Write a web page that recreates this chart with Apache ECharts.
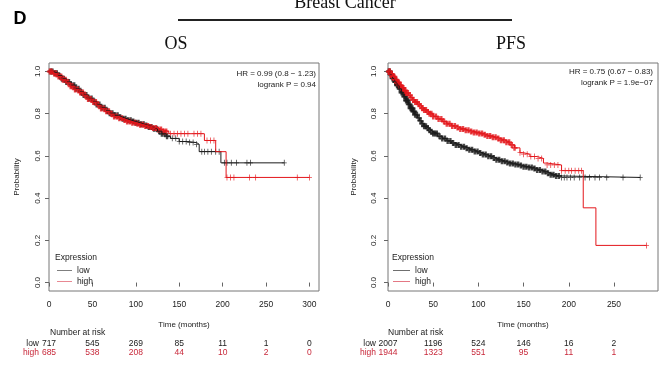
<!DOCTYPE html>
<html>
<head>
<meta charset="utf-8">
<script src="https://cdn.jsdelivr.net/npm/echarts@6/dist/echarts.min.js"></script>
<style>
  html, body { margin: 0; padding: 0; background: #fff; }
  #chart { width: 669px; height: 367px; }
</style>
</head>
<body>
<div id="chart"></div>
<script>
// axis ticks
const osTicks = [0, 50, 100, 150, 200, 250, 300];
const pfsTicks = [0, 50, 100, 150, 200, 250];
const yTicks = [0, 0.2, 0.4, 0.6, 0.8, 1.0];

// number at risk
const osRiskLow = [717, 545, 269, 85, 11, 1, 0];
const osRiskHigh = [685, 538, 208, 44, 10, 2, 0];
const pfsRiskLow = [2007, 1196, 524, 146, 16, 2];
const pfsRiskHigh = [1944, 1323, 551, 95, 11, 1];

// KM curves [months, survival]
const osLow = [[0,1],[5,0.992],[10,0.98],[15,0.965],[20,0.95],[25,0.935],[30,0.918],[35,0.903],[40,0.888],[45,0.872],[50,0.858],[55,0.843],[60,0.828],[65,0.814],[70,0.802],[75,0.792],[80,0.783],[85,0.776],[90,0.769],[95,0.763],[100,0.757],[105,0.75],[110,0.744],[115,0.737],[120,0.728],[125,0.717],[130,0.705],[135,0.693],[140,0.683],[150,0.668],[160,0.663],[170,0.655],[173,0.62],[198,0.567],[271,0.567]];
const osHigh = [[0,1],[5,0.99],[10,0.976],[15,0.961],[20,0.946],[25,0.93],[30,0.915],[35,0.9],[40,0.885],[45,0.87],[50,0.855],[55,0.84],[60,0.825],[65,0.811],[70,0.798],[75,0.787],[80,0.778],[85,0.77],[90,0.763],[95,0.757],[100,0.752],[105,0.747],[110,0.742],[115,0.737],[120,0.732],[125,0.725],[130,0.716],[138,0.705],[179,0.673],[192,0.62],[204,0.498],[300,0.498]];
const pfsLow = [[0,1],[2.5,0.985],[5,0.967],[7.5,0.95],[10,0.935],[12.5,0.918],[15,0.9],[17.5,0.881],[20,0.862],[22.5,0.844],[25,0.826],[27.5,0.81],[30,0.795],[32.5,0.78],[35,0.766],[37.5,0.752],[40,0.74],[42.5,0.731],[45,0.722],[47.5,0.714],[50,0.706],[55,0.693],[60,0.682],[65,0.671],[70,0.661],[75,0.652],[80,0.643],[85,0.636],[90,0.629],[95,0.621],[100,0.614],[105,0.606],[110,0.598],[115,0.59],[120,0.582],[125,0.575],[130,0.569],[135,0.564],[140,0.559],[145,0.554],[150,0.549],[155,0.545],[160,0.54],[165,0.533],[170,0.526],[175,0.518],[180,0.511],[185,0.505],[190,0.498],[279,0.498]];
const pfsHigh = [[0,1],[2.5,0.988],[5,0.975],[7.5,0.961],[10,0.948],[12.5,0.935],[15,0.922],[17.5,0.91],[20,0.898],[22.5,0.887],[25,0.876],[27.5,0.865],[30,0.855],[32.5,0.845],[35,0.836],[37.5,0.826],[40,0.817],[42.5,0.808],[45,0.8],[50,0.787],[55,0.775],[60,0.763],[65,0.752],[70,0.742],[75,0.734],[80,0.727],[85,0.721],[90,0.716],[95,0.711],[100,0.706],[105,0.7],[110,0.694],[115,0.688],[120,0.682],[125,0.674],[130,0.665],[135,0.652],[140,0.638],[146,0.615],[150,0.608],[157,0.597],[165,0.588],[172,0.566],[176,0.557],[192,0.53],[216,0.354],[230,0.176],[286,0.176]];

// censoring times (months): heavy band, then single late marks
const osLowCensor = [2,4,7,9,12,15,17,20,23,26,29,31,34,37,40,43,46,49,52,55,58,61,64,67,70,73,76,79,82,85,88,91,94,97,100,103,106,109,112,115,118,121,124,127,130,133,136];
const osLowLate = [142,146,150,154,158,162,166,170,176,179,183,187,192,196,202,205,210,216,228,232,271];
const osHighCensor = [1,3,6,8,11,14,16,19,22,25,27,30,33,36,39,42,45,48,51,54,57,60,63,66,69,72,75,78,81,84,87,90,93,96,99,102,105,108,111,114,117,120,123,126,129,132,135];
const osHighLate = [140,144,148,152,156,160,167,171,175,182,186,190,205,209,213,231,238,286,300];
const pfsLowCensor = [1,2,3,4,5,6,7,8,9,10,11,12,13,14,15,16,17,18,19,20,21,22,23,24,25,26,27,28,29,30,32,34,36,38,40,42,44,46,48,50,52,54,57,60,63,66,69,72,75,78,81,84,87,90,93,96,99,102,105,108,111,114,117,120,123,126,129,132,135,138,141,144,147,150,153,156,159,162,165,168,171,174,177,180,183,186,189];
const pfsLowLate = [192,195,198,202,206,212,218,223,229,234,242,260,279];
const pfsHighCensor = [1,2,3,4,5,6,7,8,9,10,11,12,13,14,15,16,17,18,19,20,22,24,26,28,30,32,34,36,38,40,42,44,46,48,50,53,56,59,62,65,68,71,74,77,80,83,86,89,92,95,98,101,104,107,110,113,116,119,122,125,128,131,134,137,140];
const pfsHighLate = [146,150,154,158,162,166,170,176,180,184,188,192,196,200,203,207,211,214,286];

const SANS = 'Liberation Sans, Arial, sans-serif';
const SERIF = 'Liberation Serif, Times New Roman, serif';
const BLACK = '#1a1a1a';
const RED = '#e3161b';
const RED_TXT = '#c8283a';
const PLUS_BOLD = 'path://M0,3.4H10V6.6H0ZM3,0H7V10H3Z';
const PLUS = 'path://M0,4.4H10V5.6H0ZM4.2,0H5.8V10H4.2Z';
const LEG_LINE = 'path://M0,4.5H20V5.5H0Z';

function survAt(curve, t) {
  let s = curve[0][1];
  for (const p of curve) { if (p[0] <= t) s = p[1]; }
  return s;
}

const chart = echarts.init(document.getElementById('chart'));

function mainX(grid, max, ticks) {
  return {
    type: 'value', gridIndex: grid, min: 0, max: max,
    name: 'Time (months)', nameLocation: 'middle', nameGap: 30,
    nameTextStyle: { fontFamily: SANS, fontSize: 8, color: '#222' },
    axisLine: { show: false },
    axisTick: { show: true, inside: false, length: 4, customValues: ticks, lineStyle: { color: '#666' } },
    axisLabel: { customValues: ticks, margin: 9, fontFamily: SANS, fontSize: 8.5, color: '#222' },
    splitLine: { show: false }
  };
}

function riskX(grid, max, ticks, values, color, offset) {
  return {
    type: 'value', gridIndex: grid, min: 0, max: max, position: 'bottom', offset: offset,
    axisLine: { show: false }, axisTick: { show: false }, splitLine: { show: false },
    axisLabel: {
      customValues: ticks, margin: 0, fontFamily: SANS, fontSize: 8.5, color: color,
      formatter: (v) => String(values[ticks.indexOf(v)])
    }
  };
}

function mainY(grid, margin, nameGap) {
  return {
    type: 'value', gridIndex: grid, min: -0.04, max: 1.04,
    name: 'Probability', nameLocation: 'middle', nameGap: nameGap, nameRotate: 90,
    nameTextStyle: { fontFamily: SANS, fontSize: 8, color: '#222' },
    axisLine: { show: false },
    axisTick: { show: true, inside: false, length: 4, customValues: yTicks, lineStyle: { color: '#666' } },
    axisLabel: { customValues: yTicks, rotate: 90, margin: margin, fontFamily: SANS, fontSize: 8, color: '#222',
      formatter: (v) => v.toFixed(1) },
    splitLine: { show: false }
  };
}

function kmSeries(name, curve, dense, late, color, xi, yi) {
  const marks = (times, symbol, size) => ({
    name: name, type: 'scatter', xAxisIndex: xi, yAxisIndex: yi,
    data: times.map((t) => [t, survAt(curve, t)]),
    symbol: symbol, symbolSize: size, itemStyle: { color: color }, silent: true
  });
  return [
    { name: name, type: 'line', xAxisIndex: xi, yAxisIndex: yi, step: 'end', data: curve,
      symbol: 'none', lineStyle: { color: color, width: 1 }, itemStyle: { color: color }, silent: true },
    marks(dense, PLUS_BOLD, [6, 6]),
    marks(late, PLUS, [5, 6])
  ];
}

function legendAt(left, top, w) {
  return {
    data: [
      { name: 'low', icon: LEG_LINE, itemStyle: { color: '#555' } },
      { name: 'high', icon: LEG_LINE, itemStyle: { color: '#e0606e' } }
    ],
    orient: 'vertical', left: left, top: top,
    itemWidth: w, itemHeight: 8, itemGap: 2, padding: 0,
    textStyle: { fontFamily: SANS, fontSize: 8.5, color: '#222' },
    selectedMode: false
  };
}

function txt(x, y, text, opts) {
  return { type: 'text', x: x, y: y, silent: true,
    style: Object.assign({ text: text, fontFamily: SANS, fontSize: 8.5, fill: '#222', align: 'left', verticalAlign: 'middle' }, opts || {}) };
}

const option = {
  animation: false,
  backgroundColor: '#fff',
  grid: [
    { left: 49, top: 63, width: 270, height: 228, show: true, borderColor: '#777', borderWidth: 1, backgroundColor: 'transparent' },
    { left: 388, top: 63, width: 270, height: 228, show: true, borderColor: '#777', borderWidth: 1, backgroundColor: 'transparent' }
  ],
  xAxis: [
    mainX(0, 311, osTicks),
    riskX(0, 311, osTicks, osRiskLow, BLACK, 48),
    riskX(0, 311, osTicks, osRiskHigh, RED_TXT, 57),
    mainX(1, 298.7, pfsTicks),
    riskX(1, 298.7, pfsTicks, pfsRiskLow, BLACK, 48),
    riskX(1, 298.7, pfsTicks, pfsRiskHigh, RED_TXT, 57)
  ],
  yAxis: [mainY(0, 7, 28), mainY(1, 10, 30)],
  legend: [legendAt(57, 266, 15), legendAt(393, 266, 17)],
  series: [
    ...kmSeries('low', osLow, osLowCensor, osLowLate, BLACK, 0, 0),
    ...kmSeries('high', osHigh, osHighCensor, osHighLate, RED, 0, 0),
    ...kmSeries('low', pfsLow, pfsLowCensor, pfsLowLate, BLACK, 3, 1),
    ...kmSeries('high', pfsHigh, pfsHighCensor, pfsHighLate, RED, 3, 1)
  ],
  graphic: [
    txt(20, 19, 'D', { fontSize: 18, fontWeight: 'bold', fill: '#000', align: 'center' }),
    txt(345, 3, 'Breast Cancer', { fontFamily: SERIF, fontSize: 18, fill: '#111', align: 'center' }),
    { type: 'line', silent: true, shape: { x1: 178, y1: 20, x2: 512, y2: 20 }, style: { stroke: '#222', lineWidth: 2 } },
    txt(176, 44, 'OS', { fontFamily: SERIF, fontSize: 18, fill: '#111', align: 'center' }),
    txt(511, 44, 'PFS', { fontFamily: SERIF, fontSize: 18, fill: '#111', align: 'center' }),
    txt(316, 74, 'HR = 0.99 (0.8 \u2212 1.23)', { align: 'right', fontSize: 8 }),
    txt(316, 85, 'logrank P = 0.94', { align: 'right', fontSize: 8 }),
    txt(653, 72, 'HR = 0.75 (0.67 \u2212 0.83)', { align: 'right', fontSize: 8 }),
    txt(653, 83, 'logrank P = 1.9e\u221207', { align: 'right', fontSize: 8 }),
    txt(55, 258, 'Expression', { fontSize: 8.5 }),
    txt(392, 258, 'Expression', { fontSize: 8.5 }),
    txt(50, 333, 'Number at risk', { fontSize: 8.5 }),
    txt(388, 333, 'Number at risk', { fontSize: 8.5 }),
    txt(39, 344, 'low', { align: 'right', fill: BLACK }),
    txt(39, 353, 'high', { align: 'right', fill: RED_TXT }),
    txt(376, 344, 'low', { align: 'right', fill: BLACK }),
    txt(376, 353, 'high', { align: 'right', fill: RED_TXT })
  ]
};

chart.setOption(option);
</script>
</body>
</html>
